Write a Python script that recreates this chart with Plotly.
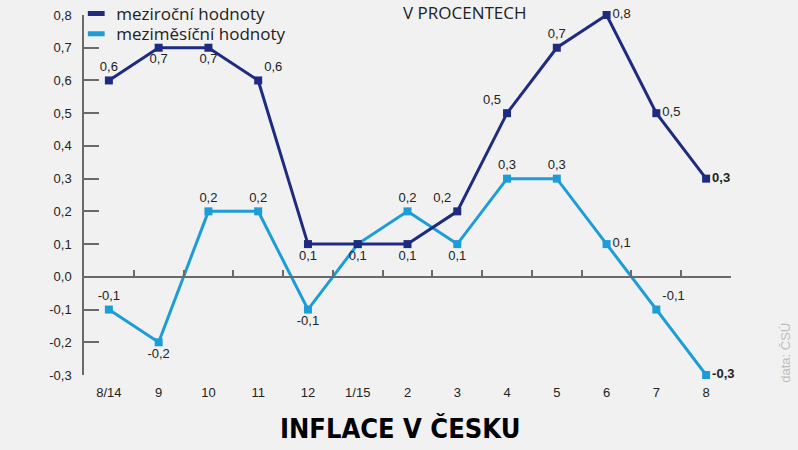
import plotly.graph_objects as go

categories = ["8/14", "9", "10", "11", "12", "1/15", "2", "3", "4", "5", "6", "7", "8"]
mezirocni = [0.6, 0.7, 0.7, 0.6, 0.1, 0.1, 0.1, 0.2, 0.5, 0.7, 0.8, 0.5, 0.3]
mezimesicni = [-0.1, -0.2, 0.2, 0.2, -0.1, 0.1, 0.2, 0.1, 0.3, 0.3, 0.1, -0.1, -0.3]
y_ticks = [-0.3, -0.2, -0.1, 0.0, 0.1, 0.2, 0.3, 0.4, 0.5, 0.6, 0.7, 0.8]

pos_dark = ["top center", "bottom center", "bottom center", "top right", "bottom center",
            "bottom center", "bottom center", "top left", "top left", "top center",
            "middle right", "middle right", "middle right"]
pos_light = ["top center", "bottom center", "top center", "top center", "bottom center",
             "bottom center", "top center", "bottom center", "top center", "top center",
             "middle right", "top right", "middle right"]

DARK = "#1f2b80"
LIGHT = "#1d9dd8"
TXT = "#222222"
AX = "#6a6a6a"
LBL_FONT = "Liberation Sans, Arial, sans-serif"
HUM_FONT = "Open Sans, sans-serif"


def fmt(v):
    return f"{v:.1f}".replace(".", ",")


def labels(vals, skip=()):
    out = []
    for i, v in enumerate(vals):
        if i in skip:
            out.append("")
        elif i == len(vals) - 1:
            out.append("<b>" + fmt(v) + "</b>")
        else:
            out.append(fmt(v))
    return out


fig = go.Figure()
fig.add_trace(go.Scatter(
    x=categories, y=mezimesicni, mode="lines+markers+text",
    line=dict(color=LIGHT, width=3), marker=dict(symbol="square", size=8, color=LIGHT),
    text=labels(mezimesicni, skip=(5,)), textposition=pos_light,
    textfont=dict(size=13, color=TXT, family=LBL_FONT),
    cliponaxis=False, showlegend=False, name="meziměsíční hodnoty"))
fig.add_trace(go.Scatter(
    x=categories, y=mezirocni, mode="lines+markers+text", xaxis="x2",
    line=dict(color=DARK, width=3), marker=dict(symbol="square", size=8, color=DARK),
    text=labels(mezirocni), textposition=pos_dark,
    textfont=dict(size=13, color=TXT, family=LBL_FONT),
    cliponaxis=False, showlegend=False, name="meziroční hodnoty"))

# legend entries (two single-item legends for tight spacing)
fig.add_trace(go.Scatter(x=[None], y=[None], mode="markers", name="meziroční hodnoty",
                         legend="legend",
                         marker=dict(symbol="line-ew", size=12, color=DARK,
                                     line=dict(width=5, color=DARK))))
fig.add_trace(go.Scatter(x=[None], y=[None], mode="markers", name="meziměsíční hodnoty",
                         legend="legend2",
                         marker=dict(symbol="line-ew", size=12, color=LIGHT,
                                     line=dict(width=5, color=LIGHT))))

legend_common = dict(x=-0.012, xanchor="left", yanchor="middle",
                     bgcolor="rgba(0,0,0,0)", font=dict(size=17, color=TXT, family=HUM_FONT),
                     itemwidth=30)

fig.update_layout(
    width=798, height=450,
    margin=dict(l=84, r=67, t=15, b=75, autoexpand=False),
    paper_bgcolor="#f1f1f1", plot_bgcolor="rgba(0,0,0,0)",
    font=dict(family=LBL_FONT, size=13, color=TXT),
    xaxis=dict(type="category", categoryorder="array", categoryarray=categories,
               range=[-0.5, len(categories) - 0.5], showline=False, showgrid=False,
               zeroline=False, ticks="", tickfont=dict(size=13, color=TXT),
               ticklabelstandoff=8),
    xaxis2=dict(overlaying="x", matches="x", anchor="free", position=3 / 11,
                type="category", showline=True, linecolor=AX, linewidth=1.5,
                ticks="inside", tickson="boundaries", ticklen=6, tickcolor=AX,
                tickwidth=1.5, showticklabels=False, showgrid=False, zeroline=False),
    yaxis=dict(range=[-0.3, 0.8], tickvals=y_ticks, ticktext=[fmt(v) for v in y_ticks],
               showline=True, linecolor=AX, linewidth=1.5, ticks="inside", ticklen=15,
               tickcolor=AX, tickwidth=1.5, showgrid=False, zeroline=False,
               tickfont=dict(size=13, color=TXT), ticklabelstandoff=8),
    legend=dict(y=1.003, **legend_common),
    legend2=dict(y=0.947, **legend_common),
    annotations=[
        dict(text="V PROCENTECH", xref="paper", yref="paper", x=0.589, y=1.0056,
             showarrow=False, font=dict(size=17, color=TXT, family=HUM_FONT),
             xanchor="center", yanchor="middle"),
        dict(text="data: ČSÚ", xref="paper", yref="paper", x=1.083, y=0.061,
             showarrow=False, textangle=-90, font=dict(size=13, color="#bdbdbd"),
             xanchor="center", yanchor="middle"),
        dict(text="<b>INFLACE V ČESKU</b>", xref="paper", yref="paper", x=0.489, y=-0.149,
             showarrow=False, xanchor="center", yanchor="middle",
             font=dict(size=27, color="#000000",
                       family="Liberation Sans Narrow, DejaVu Sans Condensed, sans-serif")),
    ],
)

fig.write_html("out.html", config={"displayModeBar": False},
               post_script="document.body.style.margin='0';")
